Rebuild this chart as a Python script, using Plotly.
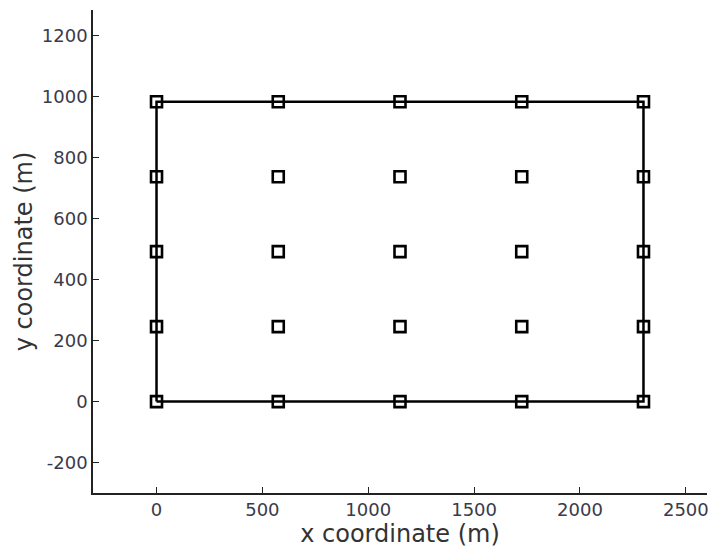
import plotly.graph_objects as go

# Data
grid_x = [0, 575, 1150, 1725, 2300]
grid_y = [0, 246, 492, 738, 984]
boundary_x = [0, 2300, 2300, 0, 0]
boundary_y = [0, 0, 984, 984, 0]
x_ticks = [0, 500, 1000, 1500, 2000, 2500]
y_ticks = [-200, 0, 200, 400, 600, 800, 1000, 1200]
y_tick_text = ["-200", "0", "200", "400", "600", "800", "1000", "1200"]

pts_x = [x for y in grid_y for x in grid_x]
pts_y = [y for y in grid_y for x in grid_x]

fig = go.Figure()
fig.add_trace(go.Scatter(x=boundary_x, y=boundary_y, mode="lines",
                         line=dict(color="black", width=2.5), showlegend=False,
                         hoverinfo="skip"))
fig.add_trace(go.Scatter(x=pts_x, y=pts_y, mode="markers",
                         marker=dict(symbol="square-open", size=11, color="black",
                                     line=dict(width=2.6, color="black")),
                         showlegend=False))

font_family = "DejaVu Sans, Arial, sans-serif"
fig.update_layout(
    width=714, height=549,
    margin=dict(l=93, r=5, t=10, b=56),
    paper_bgcolor="white", plot_bgcolor="white",
    font=dict(family=font_family, color="#333333"),
    xaxis=dict(range=[-300, 2600], tickvals=x_ticks, ticks="inside", ticklen=6,
               tickcolor="#222", showline=True, linecolor="#222", linewidth=1.5,
               showgrid=False, zeroline=False, tickfont=dict(size=18, color="#3a3a4a"),
               title=dict(text="x coordinate (m)", font=dict(size=24, color="#333"),
                          standoff=2)),
    yaxis=dict(range=[-300, 1285], tickvals=y_ticks, ticktext=y_tick_text,
               ticks="inside", ticklen=6,
               tickcolor="#222", showline=True, linecolor="#222", linewidth=1.5,
               showgrid=False, zeroline=False, tickfont=dict(size=18, color="#3a3a4a"),
               title=dict(text="y coordinate (m)", font=dict(size=24, color="#333"),
                          standoff=2)),
)

fig.write_html("out.html")
